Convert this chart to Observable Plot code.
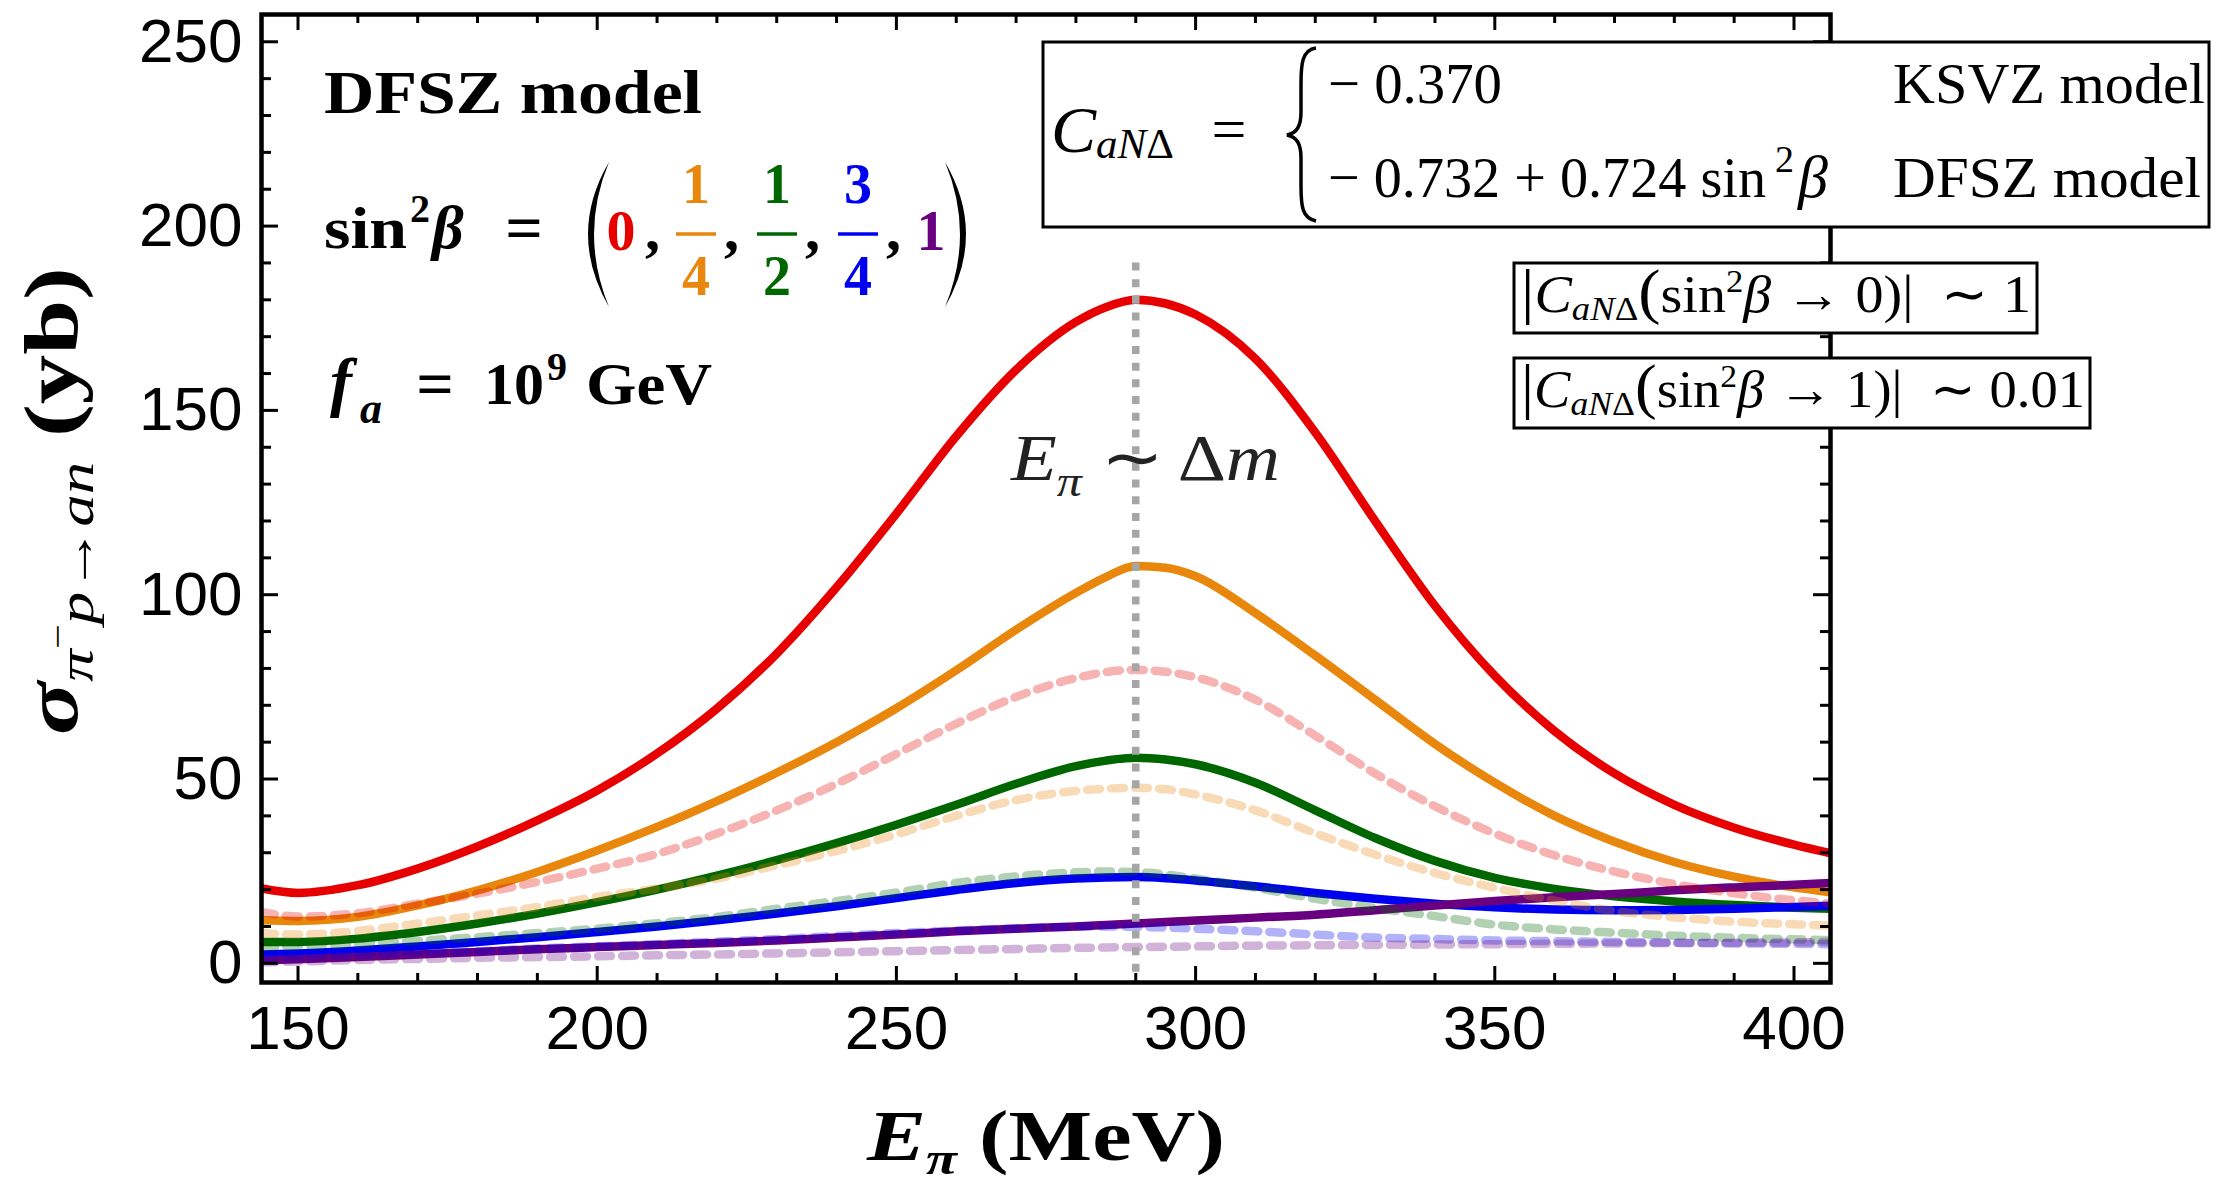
<!DOCTYPE html>
<html><head><meta charset="utf-8">
<script src="https://cdn.jsdelivr.net/npm/d3@7"></script>
<script src="https://cdn.jsdelivr.net/npm/@observablehq/plot@0.6"></script>
<style>html,body{margin:0;padding:0;background:#fff;} #chart{width:2239px;height:1192px;}</style>
</head><body><div id="chart"></div>
<script>
// ---------------- data ----------------
const energy = [144,150,160,170,180,190,200,210,220,230,240,250,260,270,280,285,290,295,300,310,320,330,340,350,360,370,380,390,400,406];
// solid curves: sin^2 beta = 0, 1/4, 1/2, 3/4, 1
const solid0   = [20.3,19.1,21.2,25.7,31.7,38.8,46.9,56.9,69.1,84.0,102,122,143,161,174,178,180,179,176,164,144,120,97,78,63,51.5,43,36.8,32.2,29.9];
const solid14  = [11.7,11.5,12.6,15.7,19.8,24.8,30.6,37.0,44.0,51.7,60.0,69.2,79.5,90.5,100.5,104.8,107.8,107.3,105,95,83.5,71.5,59.5,49,40,33,27.5,23.5,20.6,19.3];
const solid12  = [5.8,5.8,6.7,8.5,10.8,13.5,16.6,20.0,23.8,28.0,32.6,37.6,43.0,48.7,53.5,55.0,55.8,55.3,54.0,49,41.5,34,27.8,23.2,20.2,18.2,16.8,15.8,15.1,14.8];
const solid34  = [2.4,2.7,3.5,4.6,5.8,7.1,8.5,10.0,11.7,13.5,15.5,17.7,19.9,21.8,23.0,23.3,23.4,23.1,22.5,20.9,19.1,17.5,16.2,15.2,14.6,14.4,14.5,14.8,15.3,15.6];
const solid1   = [0.8,1.1,1.7,2.4,3.1,3.8,4.4,5.0,5.5,6.2,7.0,7.8,8.7,9.4,10.0,10.4,10.8,11.2,11.6,12.4,13.2,14.4,15.7,16.9,17.9,18.8,19.8,20.6,21.3,21.8];
// faded dashed companions
const dashed0  = [13.9,12.7,13.6,16.2,18.9,22.1,25.7,29.7,35.2,41.5,48.7,56.8,65.0,72.3,77.4,79.0,79.6,79.1,77.6,71.5,61.8,51.5,42.6,35.2,29.3,24.9,21.5,19.0,17.1,16.2];
const dashed14 = [8.2,7.8,8.8,10.8,13.0,15.3,18.0,20.3,23.0,26.6,30.5,35,40.0,44.3,46.8,47.4,47.6,47.2,45.8,41.5,35.3,29.5,24.5,20.5,17,14.2,12.5,11.3,10.6,10.2];
const dashed12 = [4.4,4.7,5.3,6.1,7.1,8.2,9.4,10.9,12.6,14.8,16.9,19.2,21.8,23.6,24.7,24.9,24.8,24.1,23,20.5,17.5,15,12.8,10.5,9.2,8.3,7.5,6.9,6.5,6.3];
const dashed34 = [1.3,1.6,2.2,2.8,3.3,4.0,4.6,5.2,5.9,6.6,7.4,8.2,8.9,9.5,9.9,10.0,9.9,9.7,9.4,8.7,7.8,7.0,6.6,6.2,6.0,5.8,5.6,5.4,5.3,5.2];
const dashed1  = [0.3,0.5,0.9,1.2,1.5,1.7,1.9,2.2,2.4,2.7,3.0,3.3,3.6,3.9,4.2,4.3,4.4,4.5,4.6,4.8,4.9,5.0,5.1,5.2,5.3,5.4,5.5,5.6,5.7,5.8];

const xTicksMajor = [150,200,250,300,350,400];
const xTicksMinor = [160,170,180,190,210,220,230,240,260,270,280,290,310,320,330,340,360,370,380,390];
const yTicksMajor = [0,50,100,150,200,250];
const yTicksMinor = [10,20,30,40,60,70,80,90,110,120,130,140,160,170,180,190,210,220,230,240];
const deltaM = 290;       // E_pi ~ Delta m marker
const deltaMTop = 190;    // top of marker line (yb)

// ---------------- styles ----------------
const colors = ["#e60000", "#e8870c", "#006600", "#0000f0", "#680080"];
const solids = [solid0, solid14, solid12, solid34, solid1];
const dashes = [dashed0, dashed14, dashed12, dashed34, dashed1];

const W = 2239, H = 1192;
const mL = 261, mR = 409, mT = 14, mB = 210;
const frameW = W - mL - mR, frameH = H - mT - mB;
const xDomain = [143.9, 406.1], yDomain = [-5.2, 257.4];

const rows = (arr) => energy.map((e, j) => ({E: e, v: arr[j]}));

const marks = [];
solids.forEach((s, i) => marks.push(Plot.line(rows(s), {x: "E", y: "v", stroke: colors[i], strokeWidth: 8.5, curve: "monotone-x", clip: true})));
dashes.forEach((s, i) => marks.push(Plot.line(rows(s), {x: "E", y: "v", stroke: colors[i], strokeOpacity: 0.3, strokeWidth: 8.5, strokeDasharray: "13,11", curve: "monotone-x", clip: true})));
marks.push(Plot.ruleX([deltaM], {x: d => d, y1: deltaMTop, y2: yDomain[0], stroke: "#a6a6a6", strokeWidth: 7.5, strokeDasharray: "8,8.7"}));
const tk = {stroke: "black", strokeWidth: 3};
marks.push(
  Plot.ruleX(xTicksMajor, {x: d => d, insetTop: frameH - 16, ...tk}),
  Plot.ruleX(xTicksMinor, {x: d => d, insetTop: frameH - 9, ...tk}),
  Plot.ruleX(xTicksMajor, {x: d => d, insetBottom: frameH - 16, ...tk}),
  Plot.ruleX(xTicksMinor, {x: d => d, insetBottom: frameH - 9, ...tk}),
  Plot.ruleY(yTicksMajor, {y: d => d, insetRight: frameW - 17, ...tk}),
  Plot.ruleY(yTicksMinor, {y: d => d, insetRight: frameW - 10, ...tk}),
  Plot.ruleY(yTicksMajor, {y: d => d, insetLeft: frameW - 17, ...tk}),
  Plot.ruleY(yTicksMinor, {y: d => d, insetLeft: frameW - 10, ...tk}),
  Plot.frame({stroke: "black", strokeWidth: 4.5}),
  Plot.axisX(xTicksMajor, {tickSize: 0, tickPadding: 22, fontSize: 62, label: null}),
  Plot.axisY(yTicksMajor, {tickSize: 0, tickPadding: 19, fontSize: 62, label: null})
);

const chart = Plot.plot({
  width: W, height: H,
  marginLeft: mL, marginRight: mR, marginTop: mT, marginBottom: mB,
  style: {background: "white", fontFamily: "'Liberation Sans', Arial, sans-serif", color: "black"},
  x: {domain: xDomain, label: null},
  y: {domain: yDomain, label: null},
  marks
});
document.getElementById("chart").appendChild(chart);

// ---------------- annotations ----------------
const serif = "'Liberation Serif', 'Times New Roman', serif";
const svg = d3.select(chart);
const ann = svg.append("g");

function mtext(parent, x, y, parts, o = {}) {
  const t = parent.append("text").attr("x", x).attr("y", y)
    .attr("font-family", serif).attr("font-size", o.size || 60)
    .attr("font-weight", o.weight || "normal")
    .attr("fill", o.fill || "black").attr("text-anchor", o.anchor || "start");
  if (o.transform) t.attr("transform", o.transform);
  let cur = 0;
  for (const p of parts) {
    const off = p.o || 0;
    const ts = t.append("tspan").text(p.t);
    if (off - cur !== 0) ts.attr("dy", off - cur);
    cur = off;
    if (p.s) ts.attr("font-size", p.s);
    if (p.i) ts.attr("font-style", "italic");
    if (p.b !== undefined) ts.attr("font-weight", p.b ? "bold" : "normal");
    if (p.f) ts.attr("fill", p.f);
    if (p.dx) ts.attr("dx", p.dx);
  }
  if (o.len) t.attr("textLength", o.len).attr("lengthAdjust", o.adj || "spacingAndGlyphs");
  return t;
}

// top-left labels
mtext(ann, 324, 113, [{t: "DFSZ model"}], {size: 62, weight: "bold", len: 378});
mtext(ann, 324, 248, [{t: "sin"}], {size: 60, weight: "bold", len: 83});
mtext(ann, 410, 222, [{t: "2"}], {size: 40, weight: "bold"});
mtext(ann, 432, 248, [{t: "β", i: 1}], {size: 62, weight: "bold"});
mtext(ann, 524, 250, [{t: "="}], {size: 66, weight: "bold", anchor: "middle"});
// big parentheses
ann.append("path").attr("d", "M609,162 Q567,234 609,307 Q579,234 609,162 Z").attr("fill", "black");
ann.append("path").attr("d", "M945,162 Q987,234 945,307 Q975,234 945,162 Z").attr("fill", "black");
mtext(ann, 621, 250, [{t: "0"}], {size: 58, weight: "bold", anchor: "middle", fill: colors[0]});
mtext(ann, 931, 250, [{t: "1"}], {size: 58, weight: "bold", anchor: "middle", fill: colors[4]});
[[696, "1", "4", colors[1]], [777, "1", "2", colors[2]], [858, "3", "4", colors[3]]].forEach(([cx, n, d, c]) => {
  mtext(ann, cx, 203, [{t: n}], {size: 56, weight: "bold", anchor: "middle", fill: c});
  mtext(ann, cx, 295, [{t: d}], {size: 56, weight: "bold", anchor: "middle", fill: c});
  ann.append("line").attr("x1", cx - 20).attr("x2", cx + 20).attr("y1", 234).attr("y2", 234).attr("stroke", c).attr("stroke-width", 3.5);
});
[645, 724, 805, 886].forEach(x => mtext(ann, x, 250, [{t: ","}], {size: 60, weight: "bold"}));
// f_a = 10^9 GeV
mtext(ann, 330, 404, [{t: "f", i: 1}], {size: 66, weight: "bold"});
mtext(ann, 360, 423, [{t: "a", i: 1}], {size: 44, weight: "bold"});
mtext(ann, 435, 406, [{t: "="}], {size: 66, weight: "bold", anchor: "middle"});
mtext(ann, 484, 404, [{t: "10"}], {size: 60, weight: "bold", len: 60});
mtext(ann, 547, 380, [{t: "9"}], {size: 40, weight: "bold"});
mtext(ann, 586, 404, [{t: "GeV"}], {size: 60, weight: "bold", len: 126});

// Big definition box
ann.append("rect").attr("x", 1043).attr("y", 42).attr("width", 1166).attr("height", 185)
  .attr("fill", "white").attr("stroke", "black").attr("stroke-width", 3);
mtext(ann, 1051, 152, [{t: "C", i: 1}, {t: "aN", i: 1, s: 42, o: 6}, {t: "Δ", s: 42, o: 6}], {size: 66, len: 123});
mtext(ann, 1229, 150, [{t: "="}], {size: 62, anchor: "middle"});
ann.append("path").attr("d", "M1316,48 C1302,50 1301,64 1301,84 L1301,112 C1301,126 1297,133 1287,135 C1297,137 1301,144 1301,158 L1301,186 C1301,206 1302,218 1316,221")
  .attr("fill", "none").attr("stroke", "black").attr("stroke-width", 3.5);
mtext(ann, 1328, 103, [{t: "− 0.370"}], {size: 58, len: 174});
mtext(ann, 1893, 103, [{t: "KSVZ model"}], {size: 58, len: 312});
mtext(ann, 1328, 197, [{t: "− 0.732 + 0.724 sin"}], {size: 58, len: 438});
mtext(ann, 1775, 172, [{t: "2"}], {size: 38});
mtext(ann, 1798, 197, [{t: "β", i: 1}], {size: 60});
mtext(ann, 1893, 197, [{t: "DFSZ model"}], {size: 58, len: 308});

// small boxes
function limitBox(y, w, tail, len) {
  ann.append("rect").attr("x", 1514).attr("y", y).attr("width", w).attr("height", 70)
    .attr("fill", "white").attr("stroke", "black").attr("stroke-width", 3);
  mtext(ann, 1521, y + 49, [
    {t: "|", s: 62}, {t: "C", i: 1}, {t: "aN", i: 1, s: 34, o: 8}, {t: "Δ", s: 34, o: 8},
    {t: "(", s: 62}, {t: "sin"}, {t: "2", s: 32, o: -20}, {t: "β", i: 1}, {t: tail}
  ], {size: 52, len});
}
limitBox(263, 523, " → 0)|  ∼ 1", 510);
limitBox(358, 576, " → 1)|  ∼ 0.01", 564);

// E_pi ~ Delta m
mtext(ann, 1011, 480, [{t: "E", i: 1}, {t: "π", i: 1, s: 44, o: 16}, {t: " ∼ ", o: 0}, {t: "Δ"}, {t: "m", i: 1}], {size: 66, fill: "#222", len: 269});

// axis titles
mtext(ann, 867, 1160, [{t: "E", i: 1}, {t: "π", i: 1, s: 46, o: 14}, {t: " (MeV)", o: 0}], {size: 72, weight: "bold", len: 358});
mtext(ann, 0, 0, [
  {t: "σ", i: 1}, {t: "π", i: 1, b: 0, s: 50, o: 16}, {t: "−", b: 0, s: 34, o: -8}, {t: "p→an", i: 1, b: 0, s: 50, o: 16},
  {t: " (yb)", o: 0}
], {size: 76, weight: "bold", transform: "translate(77,735) rotate(-90)", len: 468});
</script>
</body></html>
